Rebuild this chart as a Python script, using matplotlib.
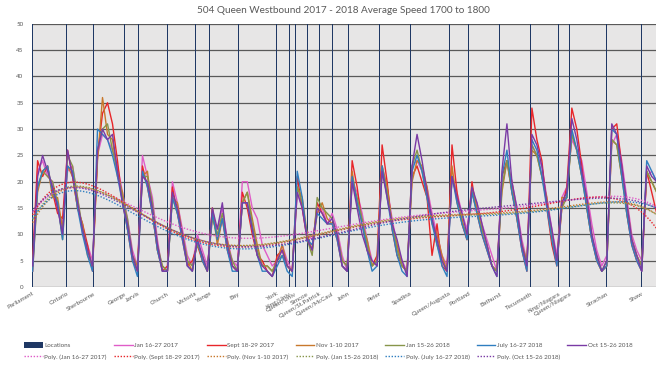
import matplotlib
matplotlib.use("Agg")
import matplotlib.pyplot as plt
import numpy as np

plt.rcParams['font.family'] = ['Lato', 'DejaVu Sans']

# stop locations (distance units along the route) and names
loc_names = ["Parliament", "Ontario", "Sherbourne", "George", "Jarvis", "Church",
             "Victoria", "Yonge", "Bay", "York", "King/Univ", "Queen/Univ",
             "Simcoe", "Queen/St.Patrick", "Queen/McCaul", "John", "Peter",
             "Spadina", "Queen/Augusta", "Portland", "Bathurst", "Tecumseth",
             "King/Niagara", "Queen/Niagara", "Strachan", "Shaw"]
loc_pos = [0, 34, 61, 92, 106, 135, 163, 177, 206, 244, 257, 263, 275, 287,
           300, 316, 347, 378, 417, 437, 468, 499, 527, 538, 575, 610]
loc_height = [50] * len(loc_pos)

# average speed samples, one every 5 distance units
jan17 = [3, 22, 24, 21, 20, 15, 12, 22, 23, 17,
         10, 8, 5, 25, 29, 28, 26, 23, 18, 13,
         7, 4, 25, 21, 17, 9, 3, 3, 20, 16,
         11, 6, 4, 10, 7, 4, 13, 11, 15, 9,
         5, 4, 20, 20, 15, 13, 8, 6, 4, 5,
         8, 5, 3, 18, 15, 10, 9, 14, 15, 12,
         14, 11, 6, 3, 20, 18, 14, 9, 5, 4,
         23, 19, 13, 8, 5, 3, 23, 24, 22, 19,
         14, 10, 6, 4, 21, 18, 14, 11, 18, 16,
         12, 9, 6, 3, 19, 24, 20, 15, 9, 5,
         27, 25, 23, 17, 11, 6, 17, 19, 28, 26,
         24, 18, 12, 7, 4, 6, 27, 29, 24, 17,
         10, 7, 5, 21, 22, 20]
sep17 = [5, 24, 21, 23, 18, 14, 13, 26, 21, 15,
         12, 8, 3, 25, 33, 35, 31, 24, 16, 11,
         5, 3, 23, 19, 14, 7, 3, 4, 19, 14,
         9, 4, 5, 8, 5, 3, 15, 9, 13, 7,
         4, 3, 18, 15, 10, 6, 5, 3, 2, 6,
         7, 4, 3, 21, 15, 9, 7, 16, 14, 12,
         12, 9, 4, 3, 24, 19, 12, 7, 4, 6,
         27, 20, 11, 6, 4, 3, 21, 23, 20, 17,
         6, 12, 4, 3, 27, 18, 12, 9, 20, 14,
         10, 7, 4, 3, 21, 24, 18, 13, 7, 3,
         34, 28, 24, 15, 8, 4, 15, 19, 34, 30,
         23, 15, 9, 5, 3, 4, 30, 31, 23, 14,
         8, 5, 3, 22, 18, 14]
nov17 = [3, 18, 22, 23, 17, 17, 11, 23, 21, 15,
         12, 6, 4, 24, 36, 29, 28, 21, 18, 11,
         6, 4, 21, 22, 14, 7, 4, 3, 17, 16,
         10, 5, 3, 9, 5, 3, 15, 8, 13, 9,
         4, 3, 16, 18, 13, 8, 4, 4, 3, 5,
         8, 4, 3, 19, 17, 10, 7, 14, 16, 13,
         12, 10, 5, 4, 22, 16, 12, 9, 4, 5,
         23, 19, 12, 8, 4, 3, 20, 24, 23, 19,
         12, 10, 6, 3, 23, 16, 13, 9, 19, 15,
         11, 8, 4, 3, 18, 24, 20, 13, 8, 5,
         26, 25, 21, 17, 9, 5, 17, 17, 29, 26,
         21, 17, 10, 5, 3, 4, 28, 27, 21, 16,
         9, 6, 4, 22, 20, 18]
jan18 = [4, 19, 22, 21, 20, 16, 9, 25, 23, 17,
         11, 7, 4, 26, 30, 31, 26, 22, 17, 13,
         6, 3, 21, 21, 16, 8, 4, 3, 17, 14,
         10, 5, 4, 8, 6, 3, 13, 10, 14, 8,
         5, 3, 16, 18, 12, 7, 4, 4, 3, 5,
         6, 4, 3, 19, 16, 9, 6, 17, 15, 14,
         13, 10, 5, 4, 20, 17, 13, 8, 4, 5,
         22, 18, 12, 7, 4, 3, 23, 26, 22, 17,
         13, 8, 5, 3, 21, 17, 12, 10, 18, 14,
         11, 8, 4, 3, 19, 24, 18, 14, 8, 4,
         27, 25, 21, 16, 10, 5, 15, 17, 29, 26,
         21, 15, 9, 6, 3, 5, 28, 27, 21, 14,
         9, 6, 4, 22, 20, 18]
jul18 = [3, 19, 22, 23, 18, 16, 9, 23, 22, 15,
         10, 6, 3, 30, 29, 28, 25, 21, 16, 11,
         5, 2, 22, 19, 14, 7, 3, 3, 17, 14,
         9, 4, 3, 9, 5, 3, 14, 9, 13, 7,
         3, 3, 16, 16, 11, 6, 3, 3, 2, 4,
         6, 3, 2, 22, 17, 9, 8, 14, 13, 12,
         12, 9, 4, 3, 21, 16, 12, 7, 3, 4,
         23, 17, 11, 6, 3, 2, 22, 25, 22, 17,
         12, 8, 4, 2, 21, 16, 12, 9, 18, 14,
         10, 7, 4, 2, 21, 26, 18, 13, 7, 3,
         28, 26, 21, 15, 9, 4, 16, 17, 30, 26,
         21, 15, 9, 5, 3, 4, 30, 29, 21, 14,
         8, 5, 3, 24, 22, 20]
oct18 = [4, 21, 25, 22, 19, 15, 10, 26, 21, 16,
         11, 7, 4, 26, 30, 28, 29, 22, 16, 12,
         6, 3, 21, 20, 15, 8, 3, 3, 18, 15,
         10, 4, 3, 9, 6, 3, 15, 11, 16, 8,
         4, 3, 16, 16, 11, 6, 4, 3, 2, 5,
         7, 4, 3, 18, 15, 9, 7, 15, 14, 12,
         13, 10, 4, 3, 20, 15, 10, 7, 5, 4,
         22, 17, 12, 9, 5, 2, 23, 29, 24, 18,
         13, 9, 5, 3, 21, 17, 14, 10, 19, 16,
         12, 8, 4, 2, 22, 31, 20, 15, 8, 4,
         29, 27, 23, 16, 11, 5, 16, 18, 32, 28,
         22, 17, 10, 6, 3, 5, 31, 29, 23, 16,
         9, 6, 3, 23, 21, 20]

series = [
    ("Jan 16-27 2017", jan17, "#e05cc8"),
    ("Sept 18-29 2017", sep17, "#e8262a"),
    ("Nov 1-10 2017", nov17, "#c8782c"),
    ("Jan 15-26 2018", jan18, "#87954a"),
    ("July 16-27 2018", jul18, "#2f7ec0"),
    ("Oct 15-26 2018", oct18, "#7a3aa5"),
]

fig = plt.figure(figsize=(6.6, 3.67), dpi=100)
ax = fig.add_axes([0.0485, 0.218, 0.945, 0.717])
ax.set_facecolor("#e7e6e6")

bars = ax.bar(loc_pos, loc_height, width=1.0, color="#1f3864", zorder=2,
              label="Locations")

handles = [bars]
for name, vals, col in series:
    y = np.array(vals, dtype=float)
    x = np.arange(len(y)) * 5
    ln, = ax.plot(x, y, color=col, lw=1.0, zorder=3, label=name)
    p = np.polynomial.Polynomial.fit(x, y, 6)
    xs = np.linspace(0, x[-1], 300)
    tl, = ax.plot(xs, p(xs), color=col, lw=1.0, ls=(0, (1, 1.2)), zorder=4,
                  label="Poly. (" + name + ")")
    handles += [tl, ln]

ax.set_xlim(-0.6, 624)
ax.set_ylim(0, 50)
ax.set_yticks(np.arange(0, 51, 5))
ax.yaxis.grid(True, color="#595959", lw=0.9)
ax.set_axisbelow(True)
ax.tick_params(axis="y", length=0, labelsize=4.5, labelcolor="#595959", pad=6)
ax.set_xticks(loc_pos)
ax.set_xticklabels(loc_names, rotation=30, ha="right", va="top",
                   rotation_mode="anchor", fontsize=4.5, color="#595959")
ax.tick_params(axis="x", length=0, pad=3)
for s in ax.spines.values():
    s.set_visible(False)

ax.set_title("504 Queen Westbound 2017 - 2018 Average Speed 1700 to 1800",
             fontsize=7.2, color="#595959", pad=8)

# column-wise fill of the 7-column legend gives: row 1 = Locations + series,
# row 2 = the polynomial trendlines
leg = fig.legend(handles=handles, labels=[h.get_label() for h in handles],
                 loc="lower left", bbox_to_anchor=(0.028, 0.005), ncol=7,
                 frameon=False, fontsize=4.5, handlelength=3.0, handleheight=0.9,
                 columnspacing=1.15, handletextpad=0.25, labelspacing=0.9,
                 labelcolor="#595959")

fig.savefig("out.png", dpi=100)
